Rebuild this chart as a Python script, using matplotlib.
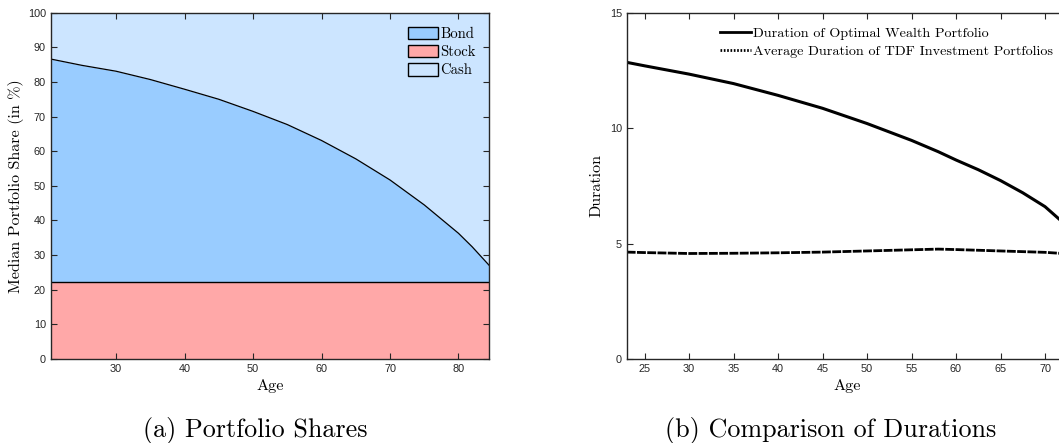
import matplotlib
matplotlib.use("Agg")
import matplotlib.pyplot as plt
from matplotlib.patches import Patch
from matplotlib.lines import Line2D

# (a) portfolio shares
age_a = [20.5, 25, 30, 35, 40, 45, 50, 55, 60, 65, 70, 75, 80, 82, 84.5]
stock = [22.15] * len(age_a)
stock_bond = [86.6, 84.8, 83.1, 80.7, 77.9, 75.0, 71.5, 67.7, 63.1, 57.8, 51.7, 44.5, 36.3, 32.4, 27.0]

# (b) durations
age_b = [23, 25, 30, 35, 40, 45, 50, 55, 58, 60, 62.5, 65, 67.5, 70, 72, 74]
dur_opt = [12.85, 12.70, 12.34, 11.93, 11.42, 10.86, 10.20, 9.47, 8.98, 8.62, 8.20,
           7.73, 7.20, 6.60, 5.92, 5.30]
dur_tdf = [4.63, 4.61, 4.57, 4.58, 4.60, 4.63, 4.68, 4.73, 4.76, 4.74, 4.71,
           4.68, 4.65, 4.62, 4.57, 4.55]

serif = "cmr10"
sans = "Liberation Sans"
c_bond = "#99ccff"
c_stock = "#ffa8a8"
c_cash = "#cce5ff"

fig = plt.figure(figsize=(10.59, 4.43), dpi=100)
W, H = 1059.0, 443.0

def style(ax):
    ax.tick_params(direction="in", length=4, width=0.8, top=True, right=True,
                   labelsize=7.8, colors="#262626", pad=3.4)
    for lab in ax.get_xticklabels() + ax.get_yticklabels():
        lab.set_fontfamily(sans)
    for s in ax.spines.values():
        s.set_linewidth(1.0)
        s.set_color("#262626")

# left panel
ax1 = fig.add_axes([50.7 / W, 1 - 359 / H, 438.6 / W, 346.3 / H])
ax1.fill_between(age_a, 0, stock, color=c_stock, lw=0)
ax1.fill_between(age_a, stock, stock_bond, color=c_bond, lw=0)
ax1.fill_between(age_a, stock_bond, 100, color=c_cash, lw=0)
ax1.plot(age_a, stock, color="black", lw=1.0)
ax1.plot(age_a, stock_bond, color="black", lw=0.9)
ax1.set_xlim(20.45, 84.5)
ax1.set_ylim(0, 100)
ax1.set_xticks([30, 40, 50, 60, 70, 80])
ax1.set_yticks(range(0, 101, 10))
style(ax1)
ax1.set_xlabel("Age", fontfamily=serif, fontsize=11.6, labelpad=4)
ax1.set_ylabel("Median Portfolio Share (in %)", fontfamily=serif, fontsize=11.6)
ax1.yaxis.set_label_coords(-0.062, 0.5)
handles = [Patch(facecolor=c_bond, edgecolor="black", label="Bond"),
           Patch(facecolor=c_stock, edgecolor="black", label="Stock"),
           Patch(facecolor=c_cash, edgecolor="black", label="Cash")]
fig.legend(handles=handles, loc="upper left", bbox_to_anchor=(407.5 / W, 1 - 26.5 / H),
           frameon=False, prop={"family": serif, "size": 10.5},
           handlelength=2.1, handleheight=0.95, handletextpad=0.15,
           labelspacing=0.27, borderpad=0, borderaxespad=0)

# right panel (runs past the right edge, as in the source)
ax2 = fig.add_axes([626.7 / W, 1 - 359 / H, 551.8 / W, 346.3 / H])
ax2.plot(age_b, dur_opt, color="black", lw=2.2)
ax2.plot(age_b, dur_tdf, color="black", lw=2.0, linestyle=(0, (3.2, 0.5)))
ax2.set_xlim(23, 85)
ax2.set_ylim(0, 15)
ax2.set_xticks(range(25, 71, 5))
ax2.set_yticks([0, 5, 10, 15])
style(ax2)
ax2.set_xlabel("Age", fontfamily=serif, fontsize=11.6, labelpad=4)
ax2.xaxis.label.set_position(((847 - 626.7) / 551.8, 0))
ax2.set_ylabel("Duration", fontfamily=serif, fontsize=11.6)
ax2.yaxis.set_label_coords(-0.042, 0.5)
lh = [Line2D([], [], color="black", lw=2.0, label="Duration of Optimal Wealth Portfolio"),
      Line2D([], [], color="black", lw=2.0, linestyle=(0, (0.6, 0.6)),
             label="Average Duration of TDF Investment Portfolios")]
fig.legend(handles=lh, loc="upper left", bbox_to_anchor=(720 / W, 1 - 27 / H),
           frameon=False, prop={"family": serif, "size": 10.2},
           handlelength=2.2, handletextpad=0.15, labelspacing=0.35,
           borderpad=0, borderaxespad=0)

fig.text(255.5 / W, 1 - 430 / H, "(a) Portfolio Shares", fontfamily=serif, fontsize=18.8,
         ha="center", va="center")
fig.text(831 / W, 1 - 430 / H, "(b) Comparison of Durations", fontfamily=serif,
         fontsize=18.8, ha="center", va="center")

fig.savefig("out.png", dpi=100)
